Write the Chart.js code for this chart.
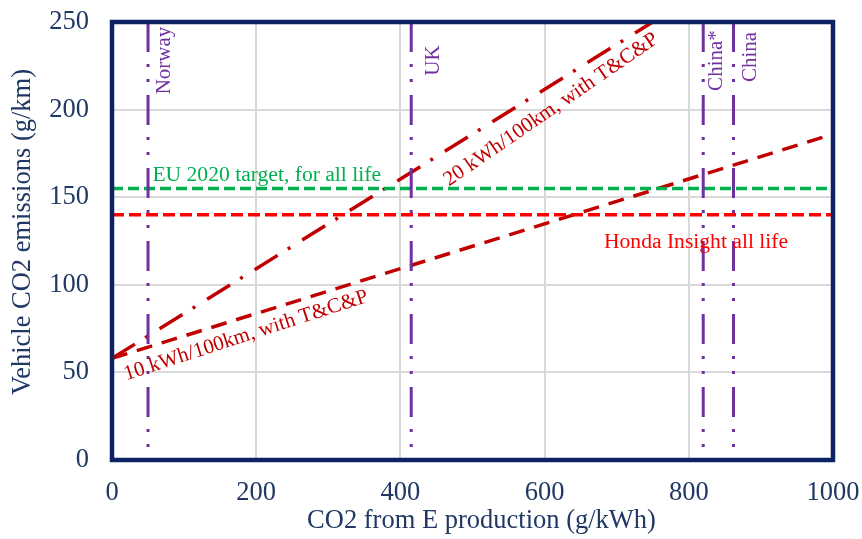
<!DOCTYPE html>
<html>
<head>
<meta charset="utf-8">
<script src="https://cdn.jsdelivr.net/npm/chart.js@4/dist/chart.umd.min.js"></script>
<style>
  html, body { margin: 0; padding: 0; background: #ffffff; }
  #wrap { width: 862px; height: 539px; }
</style>
</head>
<body>
<div id="wrap"><canvas id="c" width="862" height="539"></canvas></div>
<script>
// Axis ticks
const xTicks = [0, 200, 400, 600, 800, 1000];
const yTicks = [0, 50, 100, 150, 200, 250];

// Grid carbon intensity of electricity by region (g/kWh)
const regions = ['Norway', 'UK', 'China*', 'China'];
const regionIntensity = [50, 415, 820, 862];

// Reference vehicle emissions (g/km)
const euTarget = 155;
const hondaInsight = 140;

// EV life emissions vs. grid intensity (x: g/kWh, y: g/km)
const ev10X = [0, 1000];
const ev10Y = [58, 186];
const ev20X = [0, 750];
const ev20Y = [58, 250];

const xTitle = 'CO2 from E production (g/kWh)';
const yTitle = 'Vehicle CO2 emissions (g/km)';

const SERIF = "'Times New Roman', 'Liberation Serif', serif";
const NAVY = '#1F3864';
const FRAME = '#0B2263';
const PURPLE = '#7030A0';
const DARK_RED = '#C00000';
const RED = '#FF0000';
const GREEN = '#00B050';

const xMin = xTicks[0], xMax = xTicks[xTicks.length - 1];
const yMin = yTicks[0], yMax = yTicks[yTicks.length - 1];

const pts = (xs, ys) => xs.map((x, i) => ({ x, y: ys[i] }));

const datasets = [];
regionIntensity.forEach((v, i) => {
  datasets.push({
    label: regions[i],
    data: [{ x: v, y: yMax }, { x: v, y: yMin }],
    borderColor: PURPLE,
    borderWidth: 3,
    borderDash: [30, 12, 3, 12, 3, 13],
  });
});
datasets.push({
  label: 'EU 2020 target, for all life',
  data: [{ x: xMin, y: euTarget }, { x: xMax, y: euTarget }],
  borderColor: GREEN, borderWidth: 3.5, borderDash: [11, 5],
});
datasets.push({
  label: 'Honda Insight all life',
  data: [{ x: xMin, y: hondaInsight }, { x: xMax, y: hondaInsight }],
  borderColor: RED, borderWidth: 3.5, borderDash: [12, 5],
});
datasets.push({
  label: '20 kWh/100km, with T&C&P',
  data: pts(ev20X, ev20Y),
  borderColor: DARK_RED, borderWidth: 3.5, borderDash: [27, 12, 3, 14],
});
datasets.push({
  label: '10 kWh/100km, with T&C&P',
  data: pts(ev10X, ev10Y),
  borderColor: DARK_RED, borderWidth: 3.5, borderDash: [16, 10],
});
datasets.forEach(d => { d.showLine = true; d.pointRadius = 0; d.fill = false; d.tension = 0; });

// Text placed in data coordinates
const notes = [
  { text: regions[0], x: 73,  y: 228, rot: -90, color: PURPLE, size: 21 },
  { text: regions[1], x: 446, y: 228, rot: -90, color: PURPLE, size: 21 },
  { text: regions[2], x: 838, y: 228, rot: -90, color: PURPLE, size: 21 },
  { text: regions[3], x: 885, y: 230, rot: -90, color: PURPLE, size: 21 },
  { text: 'EU 2020 target, for all life', x: 56, y: 162.6, rot: 0, align: 'left', color: GREEN, size: 21.6 },
  { text: 'Honda Insight all life', x: 810, y: 124.4, rot: 0, color: RED, size: 21.6 },
  { text: '20 kWh/100km, with T&C&P', x: 609, y: 200, rot: -34.5, color: DARK_RED, size: 21 },
  { text: '10 kWh/100km, with T&C&P', x: 186, y: 71, rot: -18, color: DARK_RED, size: 21 },
];

const framePlugin = {
  id: 'frameAndNotes',
  afterDatasetsDraw(chart) {
    const { ctx, chartArea: a, scales: { x, y } } = chart;
    ctx.save();
    ctx.strokeStyle = FRAME;
    ctx.lineWidth = 4.5;
    ctx.strokeRect(a.left, a.top, a.right - a.left, a.bottom - a.top);
    notes.forEach(n => {
      ctx.save();
      ctx.translate(x.getPixelForValue(n.x), y.getPixelForValue(n.y));
      ctx.rotate(n.rot * Math.PI / 180);
      ctx.font = n.size + 'px ' + SERIF;
      ctx.fillStyle = n.color;
      ctx.textAlign = n.align || 'center';
      ctx.textBaseline = 'middle';
      ctx.fillText(n.text, 0, 0);
      ctx.restore();
    });
    // axis titles, set slightly off the plot-area centre
    ctx.font = '26.5px ' + SERIF;
    ctx.fillStyle = NAVY;
    ctx.textAlign = 'center';
    ctx.textBaseline = 'middle';
    ctx.fillText(xTitle, (a.left + a.right) / 2 + 9, chart.height - 18);
    ctx.translate(23, (a.top + a.bottom) / 2 - 9);
    ctx.rotate(-Math.PI / 2);
    ctx.fillText(yTitle, 0, 0);
    ctx.restore();
  }
};

new Chart(document.getElementById('c'), {
  type: 'scatter',
  data: { datasets },
  plugins: [framePlugin],
  options: {
    responsive: false,
    animation: false,
    devicePixelRatio: 1,
    layout: { padding: { left: 0, right: 29, top: 22, bottom: 0 } },
    plugins: { legend: { display: false }, tooltip: { enabled: false } },
    scales: {
      x: {
        type: 'linear', min: xMin, max: xMax,
        afterBuildTicks: s => { s.ticks = xTicks.map(v => ({ value: v })); },
        afterFit: s => { s.height = 79; s.paddingLeft = 0; s.paddingRight = 0; },
        ticks: { color: NAVY, font: { family: SERIF, size: 26.5 }, padding: 17, maxRotation: 0,
                 callback: v => String(v) },
        grid: { color: '#D9D9D9', lineWidth: 2, drawTicks: false },
        border: { display: false },
        title: { display: false },
      },
      y: {
        type: 'linear', min: yMin, max: yMax,
        afterBuildTicks: s => { s.ticks = yTicks.map(v => ({ value: v })); },
        afterFit: s => { s.width = 112; s.paddingTop = 0; s.paddingBottom = 0; },
        ticks: { color: NAVY, font: { family: SERIF, size: 26.5 }, padding: 23,
                 callback: v => String(v) },
        grid: { color: '#D9D9D9', lineWidth: 2, drawTicks: false },
        border: { display: false },
        title: { display: false },
      },
    },
  },
});
</script>
</body>
</html>
